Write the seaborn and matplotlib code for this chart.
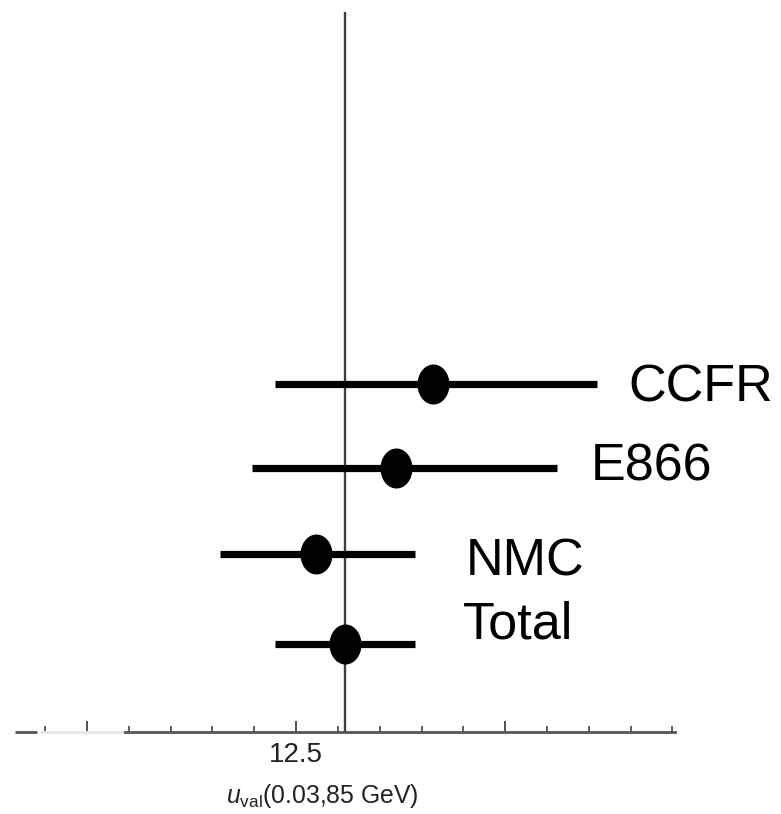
import numpy as np
import pandas as pd
import matplotlib
matplotlib.use("Agg")
import matplotlib.pyplot as plt
from matplotlib.path import Path
from matplotlib.ticker import FixedLocator, MultipleLocator, FixedFormatter
import seaborn as sns

# Central values and uncertainty ranges of u_val(0.03, 85 GeV) per data set
experiments = ["CCFR", "E866", "NMC", "Total"]
central = [14.14, 13.70, 12.74, 13.09]
low = [12.25, 11.97, 11.59, 12.25]
high = [16.10, 15.62, 13.92, 13.92]
row = [4.05, 3.07, 2.07, 1.02]

# Label anchors (left edge, vertical centre) in data units
label_x = [16.47, 16.02, 14.53, 14.49]
label_y = [4.00, 3.08, 1.98, 1.24]

df = pd.DataFrame({"experiment": experiments, "central": central,
                   "low": low, "high": high, "row": row})

sns.set_theme(style="white")
plt.rcParams["font.family"] = ["Liberation Sans", "DejaVu Sans"]
plt.rcParams["mathtext.fontset"] = "custom"
plt.rcParams["mathtext.it"] = "Liberation Sans:italic"
plt.rcParams["mathtext.rm"] = "Liberation Sans"

fig = plt.figure(figsize=(7.81, 8.14), dpi=100)
ax = fig.add_axes([10 / 781, 82 / 814, 665 / 781, 720 / 814])

xmin, xmax = 9.08, 17.03
ax.set_xlim(xmin, xmax)
ax.set_ylim(0, 8.37)

# Vertical reference line through the combined value
total_val = df.loc[df.experiment == "Total", "central"].iloc[0]
ax.axvline(total_val, color="#404040", lw=1.7, zorder=1)

# Horizontal uncertainty bars
ax.hlines(df["row"], df["low"], df["high"], color="black", lw=5.2,
          capstyle="butt", zorder=2)

# Slightly tall oval markers for central values
t = np.linspace(0, 2 * np.pi, 64)
oval = Path(np.column_stack([0.80 * np.cos(t), np.sin(t)]), closed=True)
sns.scatterplot(data=df, x="central", y="row", marker=oval, s=830,
                color="black", edgecolor="black", linewidth=0, ax=ax,
                zorder=3, legend=False)

for name, lx, ly in zip(experiments, label_x, label_y):
    ax.text(lx, ly, name, fontsize=37.5, ha="left", va="center",
            color="black")

# Axis styling: only a bottom axis with inward ticks
for s in ["left", "right", "top"]:
    ax.spines[s].set_visible(False)
ax.spines["bottom"].set_color("#555555")
ax.spines["bottom"].set_linewidth(2.0)
ax.spines["bottom"].set_bounds(10.45, xmax)
ax.plot([9.14, 9.40], [0, 0], color="#555555", lw=2.0, clip_on=False,
        transform=ax.get_xaxis_transform(), solid_capstyle="butt")
ax.plot([9.44, 10.45], [0, 0], color="#e6e6e6", lw=2.0, clip_on=False,
        transform=ax.get_xaxis_transform(), solid_capstyle="butt")

ax.xaxis.set_major_locator(FixedLocator([10.0, 12.5, 15.0]))
ax.xaxis.set_major_formatter(FixedFormatter(["", "12.5", ""]))
ax.xaxis.set_minor_locator(MultipleLocator(0.5))
ax.tick_params(axis="x", which="major", direction="in", length=8,
               width=1.3, color="#444444", labelsize=20, pad=7,
               labelcolor="#222222", bottom=True)
ax.tick_params(axis="x", which="minor", direction="in", length=4.5,
               width=1.2, color="#444444", bottom=True)
ax.set_yticks([])

ax.set_xlabel(r"$u_{\rm val}$(0.03,85 GeV)", fontsize=17.8, color="#222222")
ax.xaxis.set_label_coords(0.47, -0.07)
ax.set_ylabel("")

fig.savefig("out.png", dpi=100)
